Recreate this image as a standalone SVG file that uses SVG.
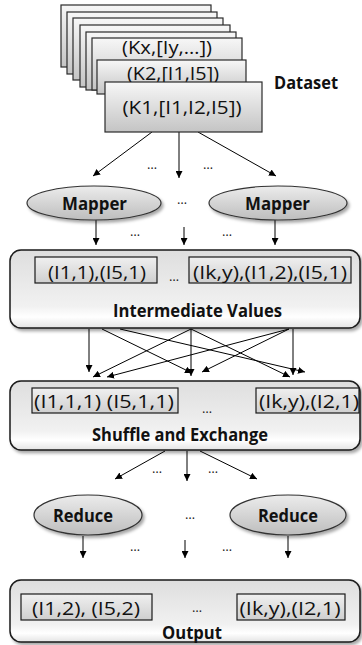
<svg xmlns="http://www.w3.org/2000/svg" width="362" height="645" viewBox="0 0 362 645">
  <defs>
    <linearGradient id="gCard" x1="0" y1="0" x2="0" y2="1">
      <stop offset="0" stop-color="#f7f7f7"/>
      <stop offset="1" stop-color="#c4c4c4"/>
    </linearGradient>
    <linearGradient id="gInner" x1="0" y1="0" x2="0" y2="1">
      <stop offset="0" stop-color="#f0f0f0"/>
      <stop offset="1" stop-color="#cfcfcf"/>
    </linearGradient>
    <linearGradient id="gPanel" x1="0" y1="0" x2="0" y2="1">
      <stop offset="0" stop-color="#dedede"/>
      <stop offset="0.72" stop-color="#f1f1f1"/>
      <stop offset="0.86" stop-color="#ffffff"/>
      <stop offset="1" stop-color="#e4e4e4"/>
    </linearGradient>
    <linearGradient id="gOval" x1="0" y1="0" x2="0" y2="1">
      <stop offset="0" stop-color="#ececec"/>
      <stop offset="1" stop-color="#bdbdbd"/>
    </linearGradient>
    <filter id="shadow" x="-10%" y="-10%" width="125%" height="130%">
      <feDropShadow dx="2" dy="2.5" stdDeviation="1.6" flood-color="#000" flood-opacity="0.35"/>
    </filter>
    <marker id="arrow" markerUnits="userSpaceOnUse" markerWidth="8" markerHeight="7" refX="7" refY="3.5" orient="auto">
      <path d="M0,0 L7,3.5 L0,7 z" fill="#000"/>
    </marker>
  </defs>
  <style>
    .card { fill: url(#gCard); stroke: #2a2a2a; stroke-width: 1.2; }
    .inner { fill: url(#gInner); stroke: #1a1a1a; stroke-width: 1.2; }
    .panel { fill: url(#gPanel); stroke: #1a1a1a; stroke-width: 1.5; filter: url(#shadow); }
    .oval { fill: url(#gOval); stroke: #333; stroke-width: 1.2; filter: url(#shadow); }
    .val { font-family: "Open Sans", "Liberation Sans", sans-serif; font-size: 19px; fill: #111; text-anchor: middle; }
    .lbl { font-family: "Open Sans", "Liberation Sans", sans-serif; font-size: 18px; font-weight: bold; fill: #111; text-anchor: middle; }
    .dots { font-family: "Open Sans", "Liberation Sans", sans-serif; font-size: 13px; fill: #222; text-anchor: middle; }
    .conn line { stroke: #000; stroke-width: 1; marker-end: url(#arrow); }
  </style>

  <rect width="362" height="645" fill="#ffffff"/>

  <!-- connectors -->
  <g id="connectors" class="conn">
    <line x1="152" y1="132" x2="93" y2="176"/>
    <line x1="179" y1="132" x2="179" y2="178"/>
    <line x1="198" y1="132" x2="276" y2="176"/>

    <line x1="96" y1="220" x2="96" y2="245"/>
    <line x1="184" y1="227" x2="184" y2="245"/>
    <line x1="275" y1="220" x2="275" y2="245"/>

    <line x1="89" y1="329" x2="89" y2="372"/>
    <line x1="102" y1="329" x2="192" y2="373"/>
    <line x1="120" y1="329" x2="305" y2="372"/>
    <line x1="191" y1="329" x2="93" y2="377"/>
    <line x1="191" y1="329" x2="191" y2="376"/>
    <line x1="191" y1="329" x2="290" y2="377"/>
    <line x1="289" y1="329" x2="107" y2="377"/>
    <line x1="289" y1="329" x2="202" y2="372"/>
    <line x1="293" y1="329" x2="293" y2="375"/>

    <line x1="165" y1="451" x2="115" y2="479"/>
    <line x1="187" y1="451" x2="187" y2="481"/>
    <line x1="200" y1="451" x2="257" y2="479"/>

    <line x1="83" y1="536" x2="83" y2="558"/>
    <line x1="185" y1="540" x2="185" y2="558"/>
    <line x1="288" y1="536" x2="288" y2="558"/>
  </g>

  <!-- ellipsis marks between parallel paths -->
  <g id="ellipses">
    <text class="dots" x="152" y="169">…</text>
    <text class="dots" x="208" y="169">…</text>
    <text class="dots" x="182" y="204">…</text>
    <text class="dots" x="135" y="236">…</text>
    <text class="dots" x="227" y="236">…</text>
    <text class="dots" x="157" y="473">…</text>
    <text class="dots" x="213" y="473">…</text>
    <text class="dots" x="190" y="519">…</text>
    <text class="dots" x="135" y="551">…</text>
    <text class="dots" x="227" y="551">…</text>
  </g>

  <!-- input dataset: stack of key/value records -->
  <g id="dataset">
    <rect class="card" x="61" y="5" width="150" height="62"/>
    <rect class="card" x="67" y="12" width="150" height="62"/>
    <rect class="card" x="73" y="18" width="150" height="62"/>
    <rect class="card" x="80" y="25" width="150" height="62"/>
    <rect class="card" x="86" y="32" width="150" height="58"/>
    <rect class="card" x="92" y="38" width="150" height="52"/>
    <text class="val" x="167" y="54" textLength="90" lengthAdjust="spacingAndGlyphs">(Kx,[Iy,…])</text>
    <rect class="card" x="97" y="60" width="149" height="34"/>
    <text class="val" x="173" y="80" textLength="92" lengthAdjust="spacingAndGlyphs">(K2,[I1,I5])</text>
    <rect class="card" x="105" y="82" width="157" height="50"/>
    <text class="val" x="182" y="114" textLength="119" lengthAdjust="spacingAndGlyphs">(K1,[I1,I2,I5])</text>
    <text class="lbl" x="306" y="89" textLength="64" lengthAdjust="spacingAndGlyphs">Dataset</text>
  </g>

  <!-- map tasks -->
  <g id="mapper1">
    <ellipse class="oval" cx="94" cy="203" rx="67" ry="17"/>
    <text class="lbl" x="94.5" y="209.5" textLength="65" lengthAdjust="spacingAndGlyphs">Mapper</text>
  </g>
  <g id="mapper2">
    <ellipse class="oval" cx="278" cy="203" rx="69" ry="17"/>
    <text class="lbl" x="277.5" y="209.5" textLength="65" lengthAdjust="spacingAndGlyphs">Mapper</text>
  </g>

  <!-- intermediate key/value pairs -->
  <g id="intermediate">
    <rect class="panel" x="10" y="250" width="350" height="78" rx="11"/>
    <rect class="inner" x="35" y="257" width="122" height="26"/>
    <text class="val" x="97" y="279" textLength="98" lengthAdjust="spacingAndGlyphs">(I1,1),(I5,1)</text>
    <text class="dots" x="174" y="281">…</text>
    <rect class="inner" x="189" y="257" width="162" height="26"/>
    <text class="val" x="270" y="279" textLength="154" lengthAdjust="spacingAndGlyphs">(Ik,y),(I1,2),(I5,1)</text>
    <text class="lbl" x="197.5" y="317" textLength="169" lengthAdjust="spacingAndGlyphs">Intermediate Values</text>
  </g>

  <!-- shuffle stage -->
  <g id="shuffle">
    <rect class="panel" x="10" y="381" width="350" height="69" rx="11"/>
    <rect class="inner" x="32" y="388" width="146" height="25"/>
    <text class="val" x="104" y="408" textLength="140" lengthAdjust="spacingAndGlyphs">(I1,1,1)  (I5,1,1)</text>
    <text class="dots" x="207" y="413">…</text>
    <rect class="inner" x="256" y="388" width="103" height="25"/>
    <text class="val" x="309" y="408" textLength="100" lengthAdjust="spacingAndGlyphs">(Ik,y),(I2,1)</text>
    <text class="lbl" x="180" y="441" textLength="176" lengthAdjust="spacingAndGlyphs">Shuffle and Exchange</text>
  </g>

  <!-- reduce tasks -->
  <g id="reduce1">
    <ellipse class="oval" cx="88" cy="515" rx="54" ry="20"/>
    <text class="lbl" x="83" y="521.5" textLength="60" lengthAdjust="spacingAndGlyphs">Reduce</text>
  </g>
  <g id="reduce2">
    <ellipse class="oval" cx="288" cy="515" rx="58" ry="20"/>
    <text class="lbl" x="288" y="521.5" textLength="60" lengthAdjust="spacingAndGlyphs">Reduce</text>
  </g>

  <!-- final results -->
  <g id="output">
    <rect class="panel" x="10" y="580" width="350" height="62" rx="11"/>
    <rect class="inner" x="21" y="594" width="131" height="26"/>
    <text class="val" x="86" y="615" textLength="108" lengthAdjust="spacingAndGlyphs">(I1,2), (I5,2)</text>
    <text class="dots" x="197" y="612">…</text>
    <rect class="inner" x="237" y="594" width="108" height="26"/>
    <text class="val" x="290" y="615" textLength="101" lengthAdjust="spacingAndGlyphs">(Ik,y),(I2,1)</text>
    <text class="lbl" x="192" y="639" textLength="60" lengthAdjust="spacingAndGlyphs">Output</text>
  </g>
</svg>
